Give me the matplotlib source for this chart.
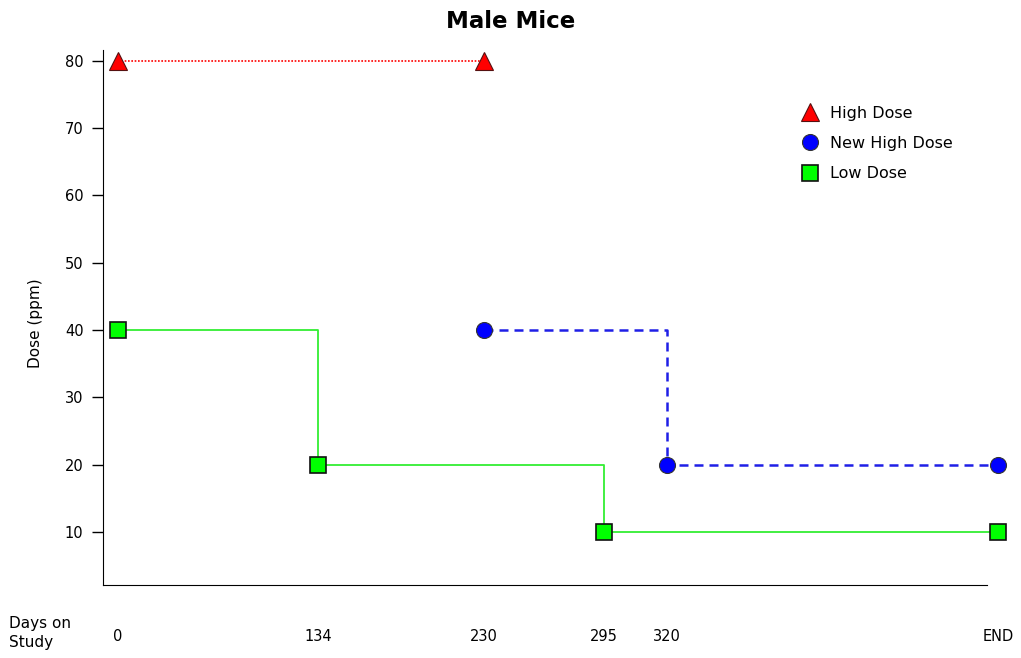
import matplotlib
matplotlib.use("Agg")
import matplotlib.pyplot as plt
from matplotlib.lines import Line2D

plt.rcParams['font.family'] = ['DejaVu Sans']

# tick labels along the study axis and where they sit on the (non-linear) axis scale
day_labels = ['0', '134', '230', '295', '320', 'END']
day_pos = [0, 200, 366, 486, 549, 880]

# dose schedules (x index into day_pos, dose in ppm)
high_x = [0, 2]
high_dose = [80, 80]
new_high_x = [2, 4, 5]
new_high_dose = [40, 20, 20]
low_x = [0, 1, 3, 5]
low_dose = [40, 20, 10, 10]

fig = plt.figure(figsize=(10.21, 6.58), dpi=100)
# axes run past the END column; the bottom spine is cut short below
ax = fig.add_axes([103 / 1021, 0.111, 915 / 1021, 0.813])

hx = [day_pos[i] for i in high_x]
nx = [day_pos[i] for i in new_high_x]
lx = [day_pos[i] for i in low_x]

# step lines
ax.step(hx, high_dose, where='post', color='red', lw=1.2, ls=(0, (1, 1)), zorder=2)
ax.step(nx, new_high_dose, where='post', color='#1f1fe6', lw=1.8, ls=(0, (3.6, 2.4)), zorder=2)
ax.step(lx, low_dose, where='post', color='#33ee33', lw=1.3, zorder=2)

# markers
tri = dict(ls='none', marker='^', ms=13, mfc='red', mec='#551111', mew=0.8)
circ = dict(ls='none', marker='o', ms=11.5, mfc='#0000ff', mec='#333333', mew=0.8)
sq = dict(ls='none', marker='s', ms=11, mfc='#00ff00', mec='#111111', mew=1.2)
ax.plot(hx, high_dose, clip_on=False, zorder=3, **tri)
ax.plot(nx, new_high_dose, clip_on=False, zorder=3, **circ)
ax.plot(lx, low_dose, clip_on=False, zorder=3, **sq)

ax.set_yticks([10, 20, 30, 40, 50, 60, 70, 80])
ax.tick_params(axis='y', direction='out', length=8, width=1, labelsize=10.5, pad=6)
ax.set_xticks(day_pos)
ax.set_xticklabels(day_labels)
ax.tick_params(axis='x', length=0, labelsize=10.5, pad=32)
ax.set_xlim(-15, 900)
ax.set_ylim(2.1, 81.6)

ax.spines['top'].set_visible(False)
ax.spines['right'].set_visible(False)
ax.spines['bottom'].set_bounds(-15, 869)
ax.set_ylabel('Dose (ppm)', fontsize=11)
ax.yaxis.set_label_coords(-0.066, 0.49)

fig.text(0.5, 1 - 21 / 658, 'Male Mice', fontsize=16.5, fontweight='bold', ha='center', va='center')
fig.text(0.009, 1 - 633 / 658, 'Days on\nStudy', fontsize=11, ha='left', va='center', linespacing=1.3)

handles = [Line2D([], [], **tri), Line2D([], [], **circ), Line2D([], [], **sq)]
ax.legend(handles, ['High Dose', 'New High Dose', 'Low Dose'], frameon=False,
          loc='upper left', bbox_to_anchor=(0.764, 0.8955), fontsize=11.5,
          borderaxespad=0, borderpad=0, handletextpad=0.75, labelspacing=0.95,
          handlelength=1.0)

fig.savefig('out.png', dpi=100)
